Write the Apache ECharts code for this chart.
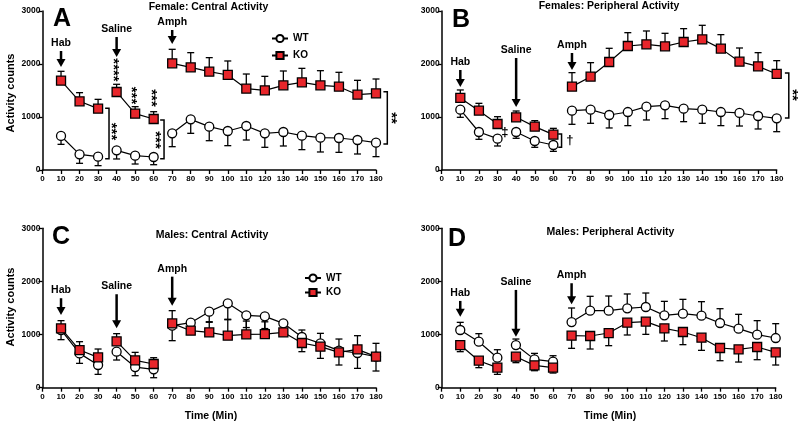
<!DOCTYPE html>
<html lang="en">
<head>
<meta charset="utf-8">
<title>Activity counts</title>
<script src="https://cdn.jsdelivr.net/npm/echarts@6/dist/echarts.min.js"></script>
<style>
html, body { margin: 0; padding: 0; background: #fff; }
#main { width: 800px; height: 423px; }
</style>
</head>
<body>
<div id="main"></div>
<script type="text/javascript">
// time bins (min)
var times = [10, 20, 30, 40, 50, 60, 70, 80, 90, 100, 110, 120, 130, 140, 150, 160, 170, 180];
var yTicks = [0, 1000, 2000, 3000];

// A: female central
var femCentralWT    = [642, 296, 252, 371, 270, 245, 692, 956, 818, 736, 830, 692, 717, 648, 610, 604, 566, 516];
var femCentralWTsem = [158, 170, 170, 163, 157, 145, 252, 264, 265, 277, 264, 264, 264, 264, 270, 271, 264, 264];
var femCentralKO    = [1686, 1296, 1157, 1472, 1063, 962, 2013, 1937, 1856, 1793, 1535, 1503, 1598, 1654, 1598, 1572, 1421, 1447];
var femCentralKOsem = [176, 163, 176, 145, 132, 138, 264, 277, 264, 264, 276, 264, 270, 264, 276, 271, 271, 270];

// B: female peripheral
var femPeriphWT    = [1138, 717, 591, 717, 547, 472, 1120, 1138, 1038, 1094, 1195, 1220, 1157, 1138, 1094, 1076, 1019, 975];
var femPeriphWTsem = [144, 138, 138, 119, 119, 120, 258, 257, 245, 257, 251, 251, 245, 257, 257, 246, 245, 252];
var femPeriphKO    = [1359, 1120, 868, 994, 818, 667, 1573, 1761, 2038, 2340, 2371, 2334, 2415, 2466, 2290, 2044, 1956, 1812];
var femPeriphKOsem = [151, 138, 138, 119, 113, 119, 264, 264, 258, 251, 252, 245, 252, 264, 264, 258, 258, 251];

// C: male central
var maleCentralWT    = [1086, 646, 427, 678, 389, 345, 1168, 1224, 1431, 1588, 1362, 1343, 1211, 954, 835, 697, 653, 584];
var maleCentralWTsem = [182, 188, 176, 157, 163, 157, 283, 150, 200, 300, 230, 230, 150, 276, 283, 270, 289, 270];
var maleCentralKO    = [1117, 709, 571, 872, 515, 446, 1210, 1073, 1042, 979, 1004, 1010, 1042, 841, 772, 665, 722, 584];
var maleCentralKOsem = [145, 157, 157, 145, 150, 119, 240, 150, 200, 300, 250, 230, 150, 245, 251, 251, 257, 251];

// D: male peripheral
var malePeriphWT    = [1086, 866, 565, 803, 533, 490, 1236, 1450, 1450, 1494, 1519, 1362, 1393, 1356, 1218, 1111, 998, 935];
var malePeriphWTsem = [144, 151, 150, 113, 113, 112, 264, 270, 276, 270, 263, 263, 270, 263, 269, 270, 264, 270];
var malePeriphKO    = [803, 508, 377, 584, 420, 377, 979, 973, 1029, 1224, 1243, 1117, 1048, 941, 747, 722, 766, 665];
var malePeriphKOsem = [125, 131, 126, 113, 100, 101, 238, 245, 238, 232, 239, 238, 238, 238, 239, 239, 239, 238];

var panels = [
    { wt: femCentralWT, wtSem: femCentralWTsem, ko: femCentralKO, koSem: femCentralKOsem, wtDir: -1, koDir: 1 },
    { wt: femPeriphWT, wtSem: femPeriphWTsem, ko: femPeriphKO, koSem: femPeriphKOsem, wtDir: -1, koDir: 1 },
    { wt: maleCentralWT, wtSem: maleCentralWTsem, ko: maleCentralKO, koSem: maleCentralKOsem, wtDir: -1, koDir: 1 },
    { wt: malePeriphWT, wtSem: malePeriphWTsem, ko: malePeriphKO, koSem: malePeriphKOsem, wtDir: 1, koDir: -1 }
];

// arrows: [panel, time, label, from value, to value]
var arrows = [
    [0, 10, 'Hab', 2245, 1943], [0, 40, 'Saline', 2509, 2132], [0, 70, 'Amph', 2641, 2377],
    [1, 10, 'Hab', 1887, 1566], [1, 40, 'Saline', 2113, 1189], [1, 70, 'Amph', 2208, 1887],
    [2, 10, 'Hab', 1684, 1369], [2, 40, 'Saline', 1759, 1119], [2, 70, 'Amph', 2090, 1544],
    [3, 10, 'Hab', 1633, 1337], [3, 40, 'Saline', 1840, 960], [3, 70, 'Amph', 1966, 1571]
];
// brackets: [panel, x tick end, x line, top value, bottom value]
var brackets = [
    [0, 33.8, 35.9, 1167, 213], [0, 63.5, 65.6, 943, 213], [0, 184, 186.1, 1478, 491],
    [1, 62.6, 64.4, 679, 428], [1, 184.4, 186.5, 1830, 981]
];
// significance marks: [panel, x, y, text, rotated]
var marks = [
    [0, 40, 1887, '****', true], [0, 50, 1406, '***', true], [0, 60.6, 1359, '***', true],
    [0, 38.8, 726, '***', true], [0, 62.6, 566, '***', true], [0, 189.9, 981, '**', true],
    [1, 34, 717, '\u2021', false], [1, 68.9, 566, '\u2020', false], [1, 190.3, 1415, '**', true]
];

var font = 'Liberation Sans, Arial, sans-serif';
var grids = [
    { left: 42.5, top: 11, width: 333.5, height: 159 },
    { left: 441.7, top: 11, width: 335, height: 159 },
    { left: 42.5, top: 228.3, width: 333.5, height: 159.4 },
    { left: 441.7, top: 228.3, width: 334, height: 159.4 }
];

function withGaps(vals) {
    var d = [];
    for (var i = 0; i < times.length; i++) {
        if (i === 3 || i === 6) d.push([times[i] - 5, '-']);
        d.push([times[i], vals[i]]);
    }
    return d;
}
function errData(vals, sem, dir) {
    var d = [];
    for (var i = 0; i < times.length; i++) d.push([times[i], vals[i], sem[i] * dir]);
    return d;
}
function renderErr(params, api) {
    var x = api.value(0), y = api.value(1), e = api.value(2);
    var p0 = api.coord([x, y]);
    var p1 = api.coord([x, y + e]);
    var cap = 3.5;
    return {
        type: 'group',
        children: [
            { type: 'line', shape: { x1: p0[0], y1: p0[1], x2: p1[0], y2: p1[1] }, style: { stroke: '#000', lineWidth: 1.3 } },
            { type: 'line', shape: { x1: p1[0] - cap, y1: p1[1], x2: p1[0] + cap, y2: p1[1] }, style: { stroke: '#000', lineWidth: 1.3 } }
        ]
    };
}
function plain(v) { return String(v); }

var xAxes = [], yAxes = [], series = [];
for (var g = 0; g < 4; g++) {
    xAxes.push({
        gridIndex: g, type: 'value', min: 0, max: 180, interval: 10,
        axisLine: { lineStyle: { color: '#000', width: 1.5 } },
        axisTick: { length: 4, lineStyle: { color: '#000', width: 1.3 } },
        axisLabel: { color: '#000', fontSize: 8, fontWeight: 'bold', fontFamily: font, margin: 5, formatter: plain },
        splitLine: { show: false }
    });
    yAxes.push({
        gridIndex: g, type: 'value', min: yTicks[0], max: yTicks[yTicks.length - 1], interval: 1000,
        axisLine: { show: true, lineStyle: { color: '#000', width: 1.5 } },
        axisTick: { show: true, length: 4, lineStyle: { color: '#000', width: 1.3 } },
        axisLabel: { color: '#000', fontSize: 8.5, fontWeight: 'bold', fontFamily: font, margin: 2, formatter: plain },
        splitLine: { show: false }
    });
    var p = panels[g];
    series.push({
        type: 'custom', xAxisIndex: g, yAxisIndex: g, renderItem: renderErr,
        data: errData(p.wt, p.wtSem, p.wtDir), z: 1, silent: true
    });
    series.push({
        type: 'custom', xAxisIndex: g, yAxisIndex: g, renderItem: renderErr,
        data: errData(p.ko, p.koSem, p.koDir), z: 1, silent: true
    });
    series.push({
        name: 'WT', type: 'line', xAxisIndex: g, yAxisIndex: g, data: withGaps(p.wt),
        symbol: 'circle', symbolSize: 9, z: 3,
        lineStyle: { color: '#000', width: 1.2 },
        itemStyle: { color: '#fff', borderColor: '#000', borderWidth: 1.3 }
    });
    series.push({
        name: 'KO', type: 'line', xAxisIndex: g, yAxisIndex: g, data: withGaps(p.ko),
        symbol: 'rect', symbolSize: 9, z: 4,
        lineStyle: { color: '#000', width: 1.2 },
        itemStyle: { color: '#e8262b', borderColor: '#000', borderWidth: 1.3 }
    });
}

var legendText = { color: '#000', fontSize: 10, fontWeight: 'bold', fontFamily: font };
var chart = echarts.init(document.getElementById('main'));
chart.setOption({
    animation: false,
    backgroundColor: '#fff',
    grid: grids,
    xAxis: xAxes,
    yAxis: yAxes,
    legend: [
        { orient: 'vertical', left: 266, top: 28.5, itemWidth: 16, itemHeight: 9, itemGap: 7, data: ['WT', 'KO'], textStyle: legendText },
        { orient: 'vertical', left: 299, top: 268, itemWidth: 16, itemHeight: 9, itemGap: 4.5, data: ['WT', 'KO'], textStyle: legendText }
    ],
    series: series
});

// annotations placed through the axes
var gfx = [];
function txt(x, y, s, size, rot) {
    gfx.push({
        type: 'text', x: x, y: y, rotation: rot || 0, silent: true,
        style: { text: s, fill: '#000', font: 'bold ' + size + 'px ' + font, textAlign: 'center', textVerticalAlign: 'middle' }
    });
}
function px(g, x, y) { return chart.convertToPixel({ gridIndex: g }, [x, y]); }

arrows.forEach(function (a) {
    var s = px(a[0], a[1], a[3]), e = px(a[0], a[1], a[4]);
    var head = 8;
    gfx.push({ type: 'line', silent: true, shape: { x1: s[0], y1: s[1], x2: e[0], y2: e[1] - head + 1 }, style: { stroke: '#000', lineWidth: 2.5 } });
    gfx.push({ type: 'polygon', silent: true, shape: { points: [[e[0] - 4.5, e[1] - head], [e[0] + 4.5, e[1] - head], [e[0], e[1]]] }, style: { fill: '#000' } });
    txt(s[0], s[1] - 8, a[2], 10.5);
});
brackets.forEach(function (b) {
    var t0 = px(b[0], b[1], b[3]), t1 = px(b[0], b[2], b[3]);
    var b1 = px(b[0], b[2], b[4]), b0 = px(b[0], b[1], b[4]);
    gfx.push({ type: 'polyline', silent: true, shape: { points: [t0, t1, b1, b0] }, style: { stroke: '#000', lineWidth: 1.5, fill: null } });
});
marks.forEach(function (m) {
    var c = px(m[0], m[1], m[2]);
    // star glyphs sit high in the em box, so pull rotated ones back onto the centre line
    if (m[4]) txt(c[0] - 3.5, c[1], m[3], 15, -Math.PI / 2);
    else txt(c[0], c[1], m[3], 13);
});

// panel letters, titles, axis names
txt(62, 19, 'A', 25); txt(461, 20, 'B', 25); txt(61, 237, 'C', 25); txt(457, 239, 'D', 25);
txt(208.5, 7.5, 'Female: Central Activity', 10.5);
txt(609, 6.5, 'Females: Peripheral Activity', 10.5);
txt(212, 235.5, 'Males: Central Activity', 10.5);
txt(610.5, 232, 'Males: Peripheral Activity', 10.5);
txt(11, 93, 'Activity counts', 11, Math.PI / 2);
txt(11, 307, 'Activity counts', 11, Math.PI / 2);
txt(211, 416, 'Time (Min)', 10.5);
txt(610, 416, 'Time (Min)', 10.5);

chart.setOption({ graphic: gfx });
</script>
</body>
</html>
